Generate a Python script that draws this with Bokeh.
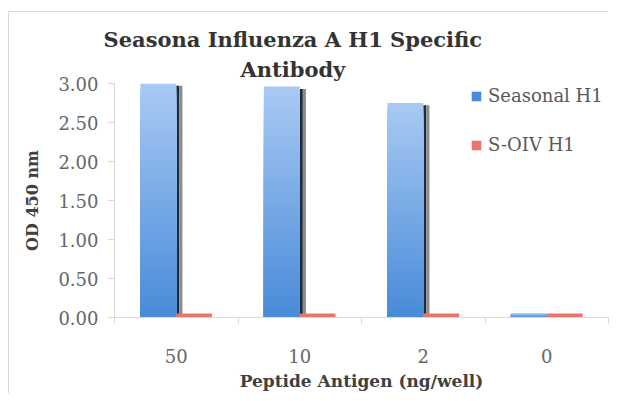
import numpy as np
from bokeh.plotting import figure
from bokeh.models import (Range1d, FixedTicker, Title, Legend, LegendItem,
                          NumeralTickFormatter)
from bokeh.embed import file_html
from bokeh.resources import INLINE

# ---- data ----
categories = ["50", "10", "2", "0"]
seasonal_h1 = [3.00, 2.96, 2.75, 0.05]
s_oiv_h1 = [0.05, 0.05, 0.05, 0.05]
y_ticks = [0.0, 0.5, 1.0, 1.5, 2.0, 2.5, 3.0]
series_names = ["Seasonal H1", "S-OIV H1"]
title_lines = ["Seasona Influenza A H1 Specific", "Antibody"]
x_title = "Peptide Antigen (ng/well)"
y_title = "OD 450 nm"

idx = np.arange(len(categories))
FONT = "DejaVu Serif"

p = figure(width=614, height=393, output_backend="svg", toolbar_location=None,
           x_range=Range1d(0, len(categories)), y_range=Range1d(0, 3),
           min_border_left=114, min_border_right=6, min_border_top=83,
           min_border_bottom=74, title=None)
p.grid.visible = False
p.outline_line_color = None
p.background_fill_alpha = 0
p.border_fill_alpha = 0
p.styles = {
    "background-image": "linear-gradient(#d9d9d9,#d9d9d9), linear-gradient(#d9d9d9,#d9d9d9)",
    "background-position": "8px 11px, 8px 11px",
    "background-size": "1px 390px, 600px 1px",
    "background-repeat": "no-repeat, no-repeat",
    "background-color": "white",
}

# ---- axes ----
xa = p.xaxis[0]
xa.ticker = FixedTicker(ticks=[float(i) + 0.5 for i in idx],
                        minor_ticks=[float(i) for i in range(len(categories) + 1)])
xa.major_label_overrides = {float(i) + 0.5: c for i, c in zip(idx, categories)}
xa.major_tick_line_color = None
xa.major_tick_out = 0
xa.major_tick_in = 0
xa.minor_tick_line_color = "#d9d9d9"
xa.minor_tick_out = 6
xa.minor_tick_in = 0
xa.axis_line_color = "#d9d9d9"
xa.major_label_standoff = 25
xa.axis_label = x_title
xa.axis_label_standoff = 5

ya = p.yaxis[0]
ya.ticker = FixedTicker(ticks=y_ticks)
ya.formatter = NumeralTickFormatter(format="0.00")
ya.major_tick_line_color = "#d9d9d9"
ya.major_tick_out = 6
ya.major_tick_in = 0
ya.minor_tick_line_color = None
ya.axis_line_color = "#d9d9d9"
ya.major_label_standoff = 10
ya.axis_label = y_title
ya.axis_label_standoff = 13

for ax in (xa, ya):
    ax.major_label_text_font = FONT
    ax.major_label_text_font_size = "18px"
    ax.major_label_text_color = "#666666"
    ax.axis_label_text_font = FONT
    ax.axis_label_text_font_style = "bold"
    ax.axis_label_text_font_size = "17px"
    ax.axis_label_text_color = "#404040"
ya.axis_label_text_font_size = "16px"

# ---- shadows behind the blue bars ----
shadow_top = [max(v - 0.03, 0.0) for v in seasonal_h1]
p.vbar(x=idx + 0.5125, width=0.025, bottom=0, top=shadow_top,
       fill_color="#1e2b3c", line_color=None)
p.vbar(x=idx + 0.5375, width=0.025, bottom=0, top=shadow_top,
       fill_color="#8c8c8c", line_color=None)

# ---- blue bars with vertical gradient (tallest/lightest first) ----
N = 60
lo = np.array([0x48, 0x8a, 0xd8], dtype=float)
hi = np.array([0xa9, 0xca, 0xf3], dtype=float)
blue_renderers = []
for k in range(N - 1, -1, -1):
    t = (k + 0.5) / N
    c = lo + (hi - lo) * t
    col = "#%02x%02x%02x" % tuple(int(round(v)) for v in c)
    tops = [v * (k + 1) / N for v in seasonal_h1]
    r = p.vbar(x=idx + 0.355, width=0.29, bottom=0, top=tops,
               fill_color=col, line_color=None)
    blue_renderers.append(r)

# ---- red bars ----
red_r = p.vbar(x=idx + 0.645, width=0.29, bottom=0, top=s_oiv_h1,
               fill_color="#e9766e", line_color=None)

# ---- legend ----
legend = Legend(items=[LegendItem(label=series_names[0], renderers=[blue_renderers[-1]]),
                       LegendItem(label=series_names[1], renderers=[red_r])],
                location=(356, 162), orientation="vertical",
                glyph_width=12, glyph_height=12, label_standoff=6,
                spacing=28, label_height=20, padding=0, margin=0,
                border_line_color=None, background_fill_alpha=0,
                label_text_font=FONT, label_text_font_size="18px",
                label_text_color="#595959")
p.add_layout(legend)

# ---- title (two lines, centred on the same point) ----
t2 = Title(text=title_lines[1], align="left", offset=126, standoff=3,
           text_font=FONT, text_font_style="bold", text_font_size="21px",
           text_color="#333333")
t1 = Title(text=title_lines[0], align="left", offset=-11, standoff=3,
           text_font=FONT, text_font_style="bold", text_font_size="21px",
           text_color="#333333")
p.add_layout(t2, "above")
p.add_layout(t1, "above")

open("out.html", "w").write(file_html(p, INLINE))
